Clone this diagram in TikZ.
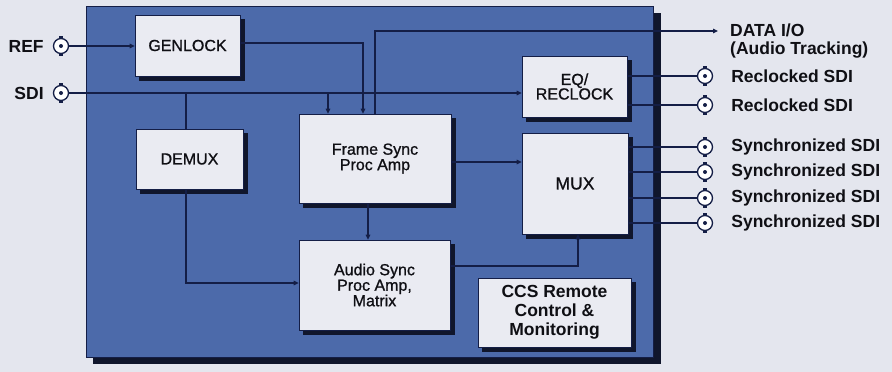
\documentclass[tikz,border=0pt]{standalone}
\usepackage{fontspec}
\setmainfont{Liberation Sans}
\newfontfamily\boxfont{Liberation Sans}[FakeBold=1]
\usetikzlibrary{arrows.meta}
\definecolor{bg}{RGB}{228,230,238}
\definecolor{panel}{RGB}{76,106,170}
\definecolor{shadowc}{RGB}{16,22,44}
\definecolor{boxfill}{RGB}{234,235,242}
\definecolor{wire}{RGB}{20,30,70}
\definecolor{txt}{RGB}{15,15,20}
\begin{document}
\begin{tikzpicture}[x=1pt,y=-1pt,
  blk/.style={draw=wire, fill=boxfill, line width=0.6pt, inner sep=0pt, align=center,
    text=txt, font=\boxfont\fontsize{16}{15.5}\selectfont},
  bblk/.style={blk, font=\bfseries\fontsize{17.5}{19}\selectfont},
  shad/.style={fill=shadowc},
  wireline/.style={draw=wire, line width=1.2pt},
  arr/.style={wireline, -{Triangle[length=5pt,width=4.5pt]}},
  bnc/.style={circle, draw=wire, line width=1.3pt, fill=white, minimum size=15pt, inner sep=0pt,
    path picture={\fill[wire] (path picture bounding box.center) circle (2pt);}},
  lbl/.style={text=txt, inner sep=0pt, font=\bfseries\fontsize{17.5}{18}\selectfont}
]
\fill[bg] (0,0) rectangle (892,372);
\useasboundingbox (0,0) rectangle (892,372);
\fill[shadowc] (93,13) rectangle (661,364);
\fill[panel] (86,6) rectangle (653,357);
\draw[wire, line width=0.8pt] (86,6) rectangle (653,357);

% block shadows
\fill[shad] (139,19) rectangle (245,81);
\fill[shad] (140,133) rectangle (248,194);
\fill[shad] (303,118) rectangle (456,208);
\fill[shad] (303,244) rectangle (455,335);
\fill[shad] (482,282) rectangle (636,352);
\fill[shad] (526,60) rectangle (632,122);
\fill[shad] (526,137) rectangle (633,239);

% blocks
\node[blk, minimum width=105pt, minimum height=61pt] (gen) at (187.5,45.5) {GENLOCK};
\node[blk, minimum width=107pt, minimum height=60pt] (demux) at (189.5,159) {DEMUX};
\node[blk, minimum width=152pt, minimum height=89pt] (frame) at (375,158.5) {Frame Sync\\Proc Amp};
\node[blk, minimum width=151pt, minimum height=90pt] (audio) at (374.5,285) {Audio Sync\\Proc Amp,\\Matrix};
\node[bblk, minimum width=153pt, minimum height=69pt] (ccs) at (554.5,312.5) {CCS Remote\\Control \&\\Monitoring};
\node[blk, minimum width=105pt, minimum height=61pt, font=\boxfont\fontsize{16}{14.5}\selectfont] (eq) at (574.5,86.5) {EQ/\\RECLOCK};
\node[blk, minimum width=106pt, minimum height=101pt, font=\boxfont\fontsize{17.5}{18}\selectfont] (mux) at (575,183.5) {MUX};

% connectors
\node[bnc] (ref) at (61,46) {};
\node[bnc] (sdi) at (61,93) {};
\node[bnc] (r1) at (705,76) {};
\node[bnc] (r2) at (705,105) {};
\node[bnc] (s1) at (705,147) {};
\node[bnc] (s2) at (705,172) {};
\node[bnc] (s3) at (705,198) {};
\node[bnc] (s4) at (705,223) {};
\foreach \n in {ref,sdi,r1,r2,s1,s2,s3,s4}{
  \fill[wire] ([xshift=-1.8pt]\n.north) rectangle ([xshift=1.8pt,yshift=2.2pt]\n.north);
  \fill[wire] ([xshift=-1.8pt]\n.south) rectangle ([xshift=1.8pt,yshift=-2.2pt]\n.south);
}

% labels
\node[lbl, anchor=east] (reft) at ([xshift=-9pt]ref.west) {REF};
\node[lbl, anchor=east] (sdit) at ([xshift=-9pt]sdi.west) {SDI};
\foreach \n in {r1,r2}{
  \node[lbl, anchor=west] (\n t) at ([xshift=18pt]\n.east) {Reclocked SDI};
}
\foreach \n in {s1,s2,s3,s4}{
  \node[lbl, anchor=west] (\n t) at ([xshift=18pt]\n.east) {Synchronized SDI};
}
\coordinate (dataend) at (718,31);
\node[lbl, anchor=west, align=left] (datat) at ([xshift=12pt,yshift=-10pt]dataend) {DATA I/O\\(Audio Tracking)};

% wires
\draw[arr] (ref.east) -- (ref.east -| gen.west);
\draw[arr] ([yshift=2.5pt]gen.east) -| ([xshift=-12pt]frame.north);
\draw[arr] (sdi.east) -- (sdi.east -| eq.west);
\draw[wireline] ([xshift=-3.5pt]demux.north |- sdi.east) -- ([xshift=-3.5pt]demux.north);
\draw[arr] ([xshift=-47pt]frame.north |- sdi.east) -- ([xshift=-47pt]frame.north);
\draw[arr] (frame.north) -- (frame.north |- dataend) -- (dataend);
\draw[arr] ([yshift=-3.5pt]frame.east) -- ([yshift=-3.5pt]frame.east -| mux.west);
\draw[arr] ([xshift=-7pt]frame.south) -- ([xshift=-7pt]frame.south |- audio.north);
\draw[arr] ([xshift=-3.5pt]demux.south) |- ([yshift=2pt]audio.west);
\draw[arr] ([yshift=19pt]audio.east) -| ([xshift=3pt]mux.south);
\foreach \n in {r1,r2}{
  \draw[wireline] (eq.east |- \n) -- (\n.west);
}
\foreach \n in {s1,s2,s3,s4}{
  \draw[wireline] (mux.east |- \n) -- (\n.west);
}
\end{tikzpicture}
\end{document}
